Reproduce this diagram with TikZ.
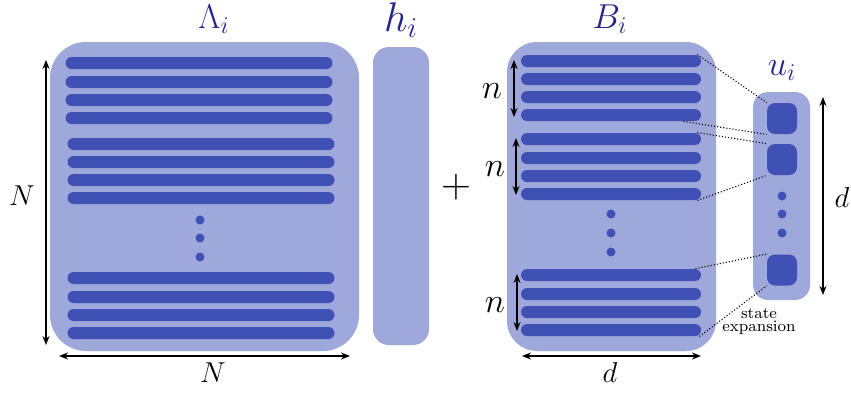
\documentclass[tikz,border=0pt]{standalone}
\usepackage{amsmath}
\usepackage{tikz}
\usetikzlibrary{arrows.meta,positioning}
\definecolor{Pale}{HTML}{9FA8DA}
\definecolor{Deep}{HTML}{3F51B5}
\definecolor{Navy}{HTML}{23238E}

\begin{document}
\begin{tikzpicture}[x=0.5pt,y=-0.5pt,
  matbox/.style={fill=Pale,inner sep=0pt},
  rowbar/.style={fill=Deep,rounded corners=3pt,inner sep=0pt,minimum height=6pt},
  cellbox/.style={fill=Deep,rounded corners=4pt,inner sep=0pt,minimum width=15pt,minimum height=15.5pt},
  vdot/.style={circle,fill=Deep,inner sep=0pt,minimum size=4.5pt},
  dimarrow/.style={{Stealth[length=4.5pt,width=3.5pt]}-{Stealth[length=4.5pt,width=3.5pt]},line width=0.9pt},
  link/.style={densely dotted,line width=0.55pt},
  lab/.style={Navy,anchor=base}]
  \useasboundingbox (0,0) rectangle (851,392);

  % the four blocks
  \node[matbox,rounded corners=18pt,minimum width=154.5pt,minimum height=154.5pt] (Lam) at (204.5,196.5) {};
  \node[matbox,rounded corners=8pt,minimum width=28pt,minimum height=149pt] (h) at (401,196) {};
  \node[matbox,rounded corners=15pt,minimum width=104.5pt,minimum height=154.5pt] (B) at (611.5,196.5) {};
  \node[matbox,rounded corners=7.5pt,minimum width=28.5pt,minimum height=104pt] (u) at (781.5,196) {};

  % rows
  \foreach \y [count=\k] in {63,82,100,118}
    \node[rowbar,minimum width=133.5pt] (L\k) at (199,\y) {};
  \foreach \y [count=\k from 5] in {144,162,180,198,278,297,315,333}
    \node[rowbar,minimum width=133.5pt] (L\k) at (201,\y) {};
  \foreach \y [count=\k] in {61,79,97,115,139,158,176,194,275,294,312,330}
    \node[rowbar,minimum width=90pt] (B\k) at (611,\y) {};

  % dots
  \foreach \y [count=\k] in {220,238,257} \node[vdot] (Ld\k) at (200,\y) {};
  \foreach \y [count=\k] in {214,233,252} \node[vdot] (Bd\k) at (611,\y) {};
  \foreach \y [count=\k] in {196,214,233} \node[vdot] (ud\k) at (782,\y) {};

  % entries of u
  \node[cellbox] (u1) at (782,118.5) {};
  \node[cellbox] (u2) at (782,159.5) {};
  \node[cellbox] (u3) at (782,270) {};

  % state expansion links
  \draw[link] ([xshift=-2pt]B1.north east) -- (u1.north west);
  \draw[link] ([xshift=-9pt]B4.south east) -- (u1.south west);
  \draw[link] ([xshift=-2pt]B5.north east) -- (u2.north west);
  \draw[link] ([xshift=-2pt]B8.south east) -- (u2.south west);
  \draw[link] ([xshift=-3pt]B9.north east) -- (u3.north west);
  \draw[link] ([xshift=-1pt]B12.south east) -- (u3.south west);
  \node[font=\fontsize{8}{6.5}\selectfont,align=center] (note) at (759,322) {state\\expansion};

  % dimensions
  \coordinate (NvT) at (46,60);   \coordinate (NvB) at (46,345);
  \coordinate (NhL) at (59,356);  \coordinate (NhR) at (350,356);
  \coordinate (n1T) at (514,60);  \coordinate (n1B) at (514,117);
  \coordinate (n2T) at (516,138); \coordinate (n2B) at (516,195);
  \coordinate (n3T) at (517,274); \coordinate (n3B) at (517,331);
  \coordinate (dhL) at (522,356); \coordinate (dhR) at (701,356);
  \coordinate (dvT) at (823,97);  \coordinate (dvB) at (823,295);
  \draw[dimarrow] (NvT) -- (NvB);
  \draw[dimarrow] (NhL) -- (NhR);
  \draw[dimarrow] (n1T) -- (n1B);
  \draw[dimarrow] (n2T) -- (n2B);
  \draw[dimarrow] (n3T) -- (n3B);
  \draw[dimarrow] (dhL) -- (dhR);
  \draw[dimarrow] (dvT) -- (dvB);

  \node[anchor=base,font=\Large] (NvLab) at (22,205) {$N$};
  \node[anchor=base,font=\Large] (NhLab) at (213,382) {$N$};
  \node[anchor=base,font=\LARGE] (n1Lab) at (492,98) {$n$};
  \node[anchor=base,font=\LARGE] (n2Lab) at (495,176) {$n$};
  \node[anchor=base,font=\LARGE] (n3Lab) at (495,312) {$n$};
  \node[anchor=base,font=\Large] (dhLab) at (610,382) {$d$};
  \node[anchor=base,font=\Large] (dvLab) at (842,207) {$d$};
  \node[anchor=base,font=\huge] (plus) at (456,197) {$+$};

  % names
  \node[lab,font=\LARGE] (LamLab) at (214,28) {$\Lambda_i$};
  \node[lab,font=\huge,inner sep=0pt] (hLab) at (401,31) {$h_i$};
  \node[lab,font=\LARGE] (BLab) at (610,28) {$B_i$};
  \node[lab,font=\LARGE] (uLab) at (782,75) {$u_i$};
\end{tikzpicture}
\end{document}
